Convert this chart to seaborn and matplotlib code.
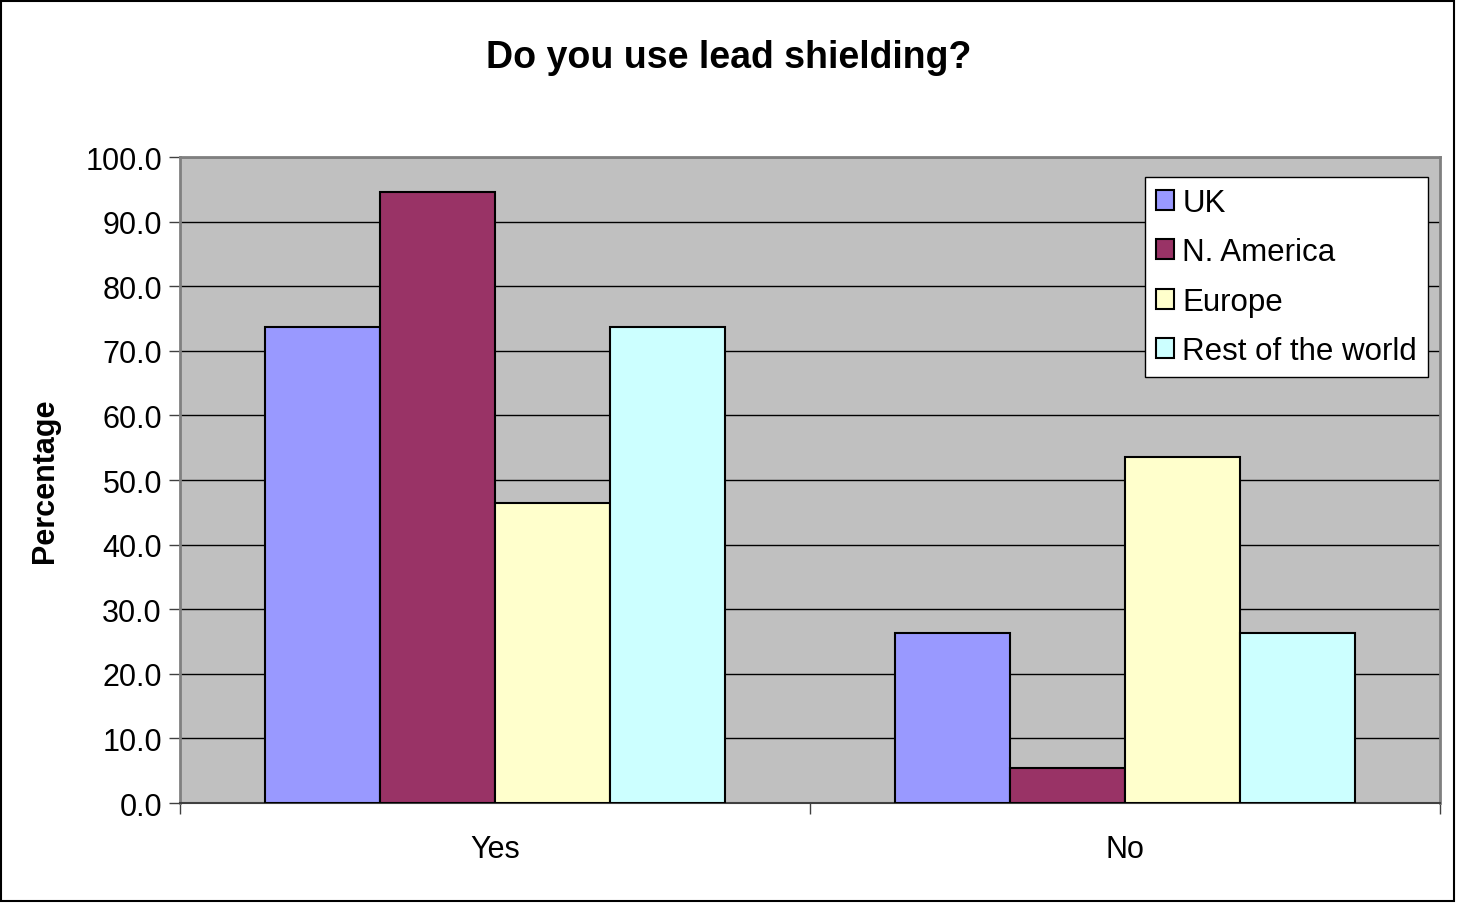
import matplotlib
matplotlib.use("Agg")
import matplotlib.pyplot as plt
from matplotlib.patches import Patch
import seaborn as sns
import pandas as pd
import numpy as np

# values (percent)
answers = ["Yes", "No"]
regions = ["UK", "N. America", "Europe", "Rest of the world"]
uk = [73.7, 26.3]
n_america = [94.6, 5.4]
europe = [46.4, 53.6]
rest_world = [73.7, 26.3]
colors = ["#9999FF", "#993366", "#FFFFCC", "#CCFFFF"]

df = pd.DataFrame({
    "Answer": answers * 4,
    "Region": [r for r in regions for _ in answers],
    "Percentage": uk + n_america + europe + rest_world,
})

sns.set_style("white")
plt.rcParams["font.family"] = ["Liberation Sans", "DejaVu Sans"]
plt.rcParams["text.color"] = "black"
plt.rcParams["axes.labelcolor"] = "black"
plt.rcParams["xtick.color"] = "black"
plt.rcParams["ytick.color"] = "black"

fig = plt.figure(figsize=(14.57, 9.04), dpi=100)
ax = fig.add_axes([0.1235, 0.1106, 0.8648, 0.7146])
ax.set_facecolor("#C0C0C0")

sns.barplot(data=df, x="Answer", y="Percentage", hue="Region", order=answers,
            hue_order=regions, palette=colors, width=0.73, gap=0,
            edgecolor="black", linewidth=1.5, saturation=1, ax=ax, legend=False,
            zorder=3)

ax.set_ylim(0, 100)
ax.set_xlim(-0.5, 1.5)
ax.set_yticks(np.arange(0, 101, 10))
ax.set_yticklabels([f"{v:.1f}" for v in np.arange(0, 101, 10)])
ax.yaxis.grid(True, color="black", linewidth=1)
ax.set_axisbelow(True)

ax.tick_params(axis="y", length=8, width=1, color="#404040", labelsize=22, pad=5, left=True)
ax.set_xticks([0, 1])
ax.tick_params(axis="x", which="major", length=0, labelsize=22, pad=22)
ax.set_xticks([-0.5, 0.5, 1.5], minor=True)
ax.tick_params(axis="x", which="minor", length=8, width=1, color="#404040", bottom=True)

for side in ["top", "right", "left"]:
    ax.spines[side].set_color("#808080")
    ax.spines[side].set_linewidth(2)
ax.spines["bottom"].set_color("#404040")
ax.spines["bottom"].set_linewidth(1.5)

ax.set_xlabel("")
ax.set_ylabel("Percentage", fontsize=22, fontweight="bold")
ax.yaxis.set_label_coords(-0.095, 0.5)
fig.text(0.5, 0.936, "Do you use lead shielding?", ha="center", va="center",
         fontsize=27, fontweight="bold")

handles = [Patch(facecolor=c, edgecolor="black", linewidth=1.5) for c in colors]
leg = fig.legend(handles, regions, loc="upper right", bbox_to_anchor=(0.980, 0.803),
                 bbox_transform=fig.transFigure, fontsize=22.5, frameon=True,
                 fancybox=False, handlelength=0.6, handleheight=0.6,
                 handletextpad=0.25, labelspacing=0.62, borderpad=0.35, borderaxespad=0)
leg.get_frame().set_edgecolor("black")
leg.get_frame().set_facecolor("white")
leg.get_frame().set_alpha(1)
leg.get_frame().set_linewidth(1)

fig.patches.append(plt.Rectangle((0.001, 0.002), 0.997, 0.996, transform=fig.transFigure,
                                 fill=False, edgecolor="black", linewidth=1.5))

fig.savefig("out.png", dpi=100)
